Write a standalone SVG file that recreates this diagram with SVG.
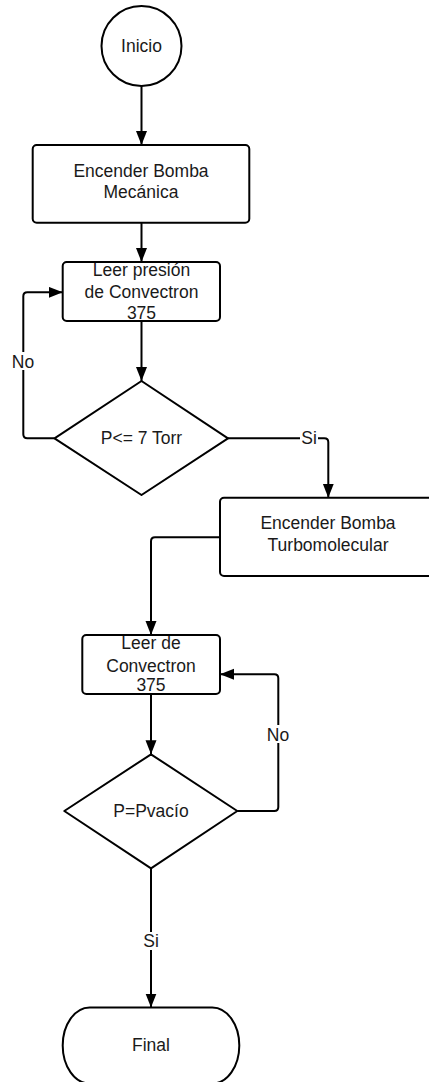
<svg xmlns="http://www.w3.org/2000/svg" width="429" height="1082" viewBox="0 0 429 1082">
<style>
.s{fill:#fff;stroke:#000;stroke-width:2;stroke-linejoin:round}
.c{fill:none;stroke:#000;stroke-width:2;stroke-linejoin:round}
text{font-family:"Liberation Sans",Arial,sans-serif;font-size:17.5px;fill:#1a1a1a;text-anchor:middle}
.lb{fill:#fff;stroke:none}
</style>
<defs>
<marker id="a" markerUnits="userSpaceOnUse" markerWidth="15" markerHeight="12" refX="14" refY="5.5" orient="auto">
<path d="M0,0 L14,5.5 L0,11 z" fill="#000"/>
</marker>
</defs>
<g id="connectors">
<path class="c" d="M141.5 86 V145" marker-end="url(#a)"/>
<path class="c" d="M141.5 223 V262" marker-end="url(#a)"/>
<path class="c" d="M141.5 321 V381" marker-end="url(#a)"/>
<path class="c" d="M54.5 438.3 H27.3 Q23.3 438.3 23.3 434.3 V296.3 Q23.3 292.3 27.3 292.3 H62.7" marker-end="url(#a)"/>
<path class="c" d="M228 438.3 H324.3 Q328.3 438.3 328.3 442.3 V497.7" marker-end="url(#a)"/>
<path class="c" d="M220 537.3 H155 Q151 537.3 151 541.3 V635" marker-end="url(#a)"/>
<path class="c" d="M151 694 V754.3" marker-end="url(#a)"/>
<path class="c" d="M237.3 811 H274.3 Q278.3 811 278.3 807 V678.3 Q278.3 674.3 274.3 674.3 H220" marker-end="url(#a)"/>
<path class="c" d="M151 868.3 V1007.5" marker-end="url(#a)"/>
<rect class="lb" x="11" y="352" width="24" height="18"/>
<text x="23" y="368">No</text>
<rect class="lb" x="300" y="429" width="18" height="18"/>
<text x="309" y="444">Si</text>
<rect class="lb" x="266" y="725" width="24" height="18"/>
<text x="278" y="741">No</text>
<rect class="lb" x="142" y="932" width="18" height="18"/>
<text x="151" y="947">Si</text>
</g>
<g id="inicio">
<circle class="s" cx="141.5" cy="46" r="40"/>
<text x="141.5" y="52">Inicio</text>
</g>
<g id="encender-mecanica">
<rect class="s" x="32.7" y="145" width="216.6" height="77.7" rx="4"/>
<text x="141" y="177">Encender Bomba</text>
<text x="141" y="198">Mecánica</text>
</g>
<g id="leer-presion">
<rect class="s" x="62.7" y="262" width="157.3" height="59" rx="4"/>
<text x="141.5" y="276">Leer presión</text>
<text x="141.5" y="298">de Convectron</text>
<text x="141.5" y="319">375</text>
</g>
<g id="decision-7torr">
<path class="s" d="M141.5 381 L228 438.3 L141.5 495 L54.5 438.3 Z"/>
<text x="141.5" y="444">P&lt;= 7 Torr</text>
</g>
<g id="encender-turbo">
<rect class="s" x="220" y="497.7" width="216" height="78.3" rx="4"/>
<text x="328" y="529">Encender Bomba</text>
<text x="328" y="551">Turbomolecular</text>
</g>
<g id="leer-convectron">
<rect class="s" x="82.3" y="635" width="137.7" height="59" rx="4"/>
<text x="151" y="649">Leer de</text>
<text x="151" y="672">Convectron</text>
<text x="151" y="691">375</text>
</g>
<g id="decision-vacio">
<path class="s" d="M151 754.3 L237.3 811 L151 868.3 L64.3 811 Z"/>
<text x="151" y="817">P=Pvacío</text>
</g>
<g id="final">
<rect class="s" x="62.7" y="1007.5" width="176.6" height="76" rx="27" ry="38"/>
<text x="151" y="1051">Final</text>
</g>
</svg>
